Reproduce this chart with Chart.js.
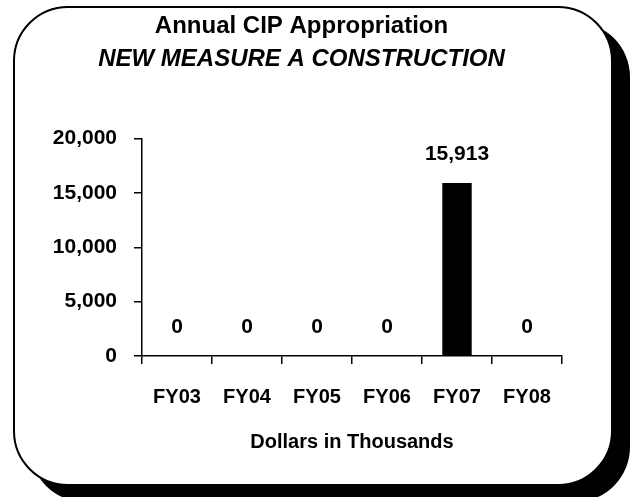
<!DOCTYPE html>
<html>
<head>
<meta charset="utf-8">
<script src="https://cdn.jsdelivr.net/npm/chart.js@4/dist/chart.umd.min.js"></script>
<style>
  html, body { margin: 0; padding: 0; background: #fff; }
  #wrap { position: relative; width: 633px; height: 497px; overflow: hidden; }
  #frame {
    position: absolute; left: 13px; top: 6px; width: 596px; height: 476px;
    border: 2px solid #000; border-radius: 55px; background: #fff;
    box-shadow: 17px 16px 0 #000;
  }
  #chart { position: absolute; left: 0; top: 0; }
</style>
</head>
<body>
<div id="wrap">
  <div id="frame"></div>
  <canvas id="chart" width="633" height="497"></canvas>
</div>
<script>
const categories = ['FY03', 'FY04', 'FY05', 'FY06', 'FY07', 'FY08'];
const appropriation = [0, 0, 0, 0, 15913, 0];
const yTicks = [0, 5000, 10000, 15000, 20000];

const FONT = '"Liberation Sans", Arial, sans-serif';
const fmt = v => Number(v).toLocaleString('en-US');

// value labels above each bar
const barLabels = {
  id: 'barLabels',
  afterDatasetsDraw(chart) {
    const ctx = chart.ctx;
    const meta = chart.getDatasetMeta(0);
    ctx.save();
    ctx.font = 'bold 21px ' + FONT;
    ctx.fillStyle = '#000';
    ctx.textAlign = 'center';
    ctx.textBaseline = 'bottom';
    meta.data.forEach((bar, i) => {
      ctx.fillText(fmt(appropriation[i]), bar.x, bar.y - 18);
    });
    ctx.restore();
  }
};

new Chart(document.getElementById('chart'), {
  type: 'bar',
  data: {
    labels: categories,
    datasets: [{
      data: appropriation,
      backgroundColor: '#000',
      borderWidth: 0,
      barPercentage: 0.42,
      categoryPercentage: 1,
    }],
  },
  options: {
    responsive: false,
    animation: false,
    layout: { padding: { left: 41, right: 71, top: 0, bottom: 45 } },
    plugins: {
      legend: { display: false },
      tooltip: { enabled: false },
      title: {
        display: true,
        text: 'Annual CIP Appropriation',
        color: '#000',
        font: { family: FONT, size: 24, weight: 'bold', lineHeight: 1.2 },
        padding: { top: 12, bottom: 0 },
      },
      subtitle: {
        display: true,
        text: 'NEW MEASURE A CONSTRUCTION',
        color: '#000',
        font: { family: FONT, size: 24, weight: 'bold', style: 'italic', lineHeight: 1.2 },
        padding: { top: 4, bottom: 65 },
      },
    },
    scales: {
      x: {
        grid: { drawOnChartArea: false, color: '#000', tickLength: 8, lineWidth: 1.5 },
        border: { color: '#000', width: 1.5 },
        ticks: { color: '#000', padding: 21, font: { family: FONT, size: 20, weight: 'bold' } },
        title: {
          display: true,
          text: 'Dollars in Thousands',
          color: '#000',
          font: { family: FONT, size: 20, weight: 'bold', lineHeight: 1 },
          padding: { top: 2, bottom: 0 },
        },
      },
      y: {
        min: 0,
        max: 20000,
        afterBuildTicks: scale => { scale.ticks = yTicks.map(v => ({ value: v })); },
        afterFit: scale => { scale.width = 101; },
        grid: { drawOnChartArea: false, color: '#000', tickLength: 8, lineWidth: 1.5 },
        border: { color: '#000', width: 1.5 },
        ticks: { color: '#000', padding: 17, callback: v => fmt(v), font: { family: FONT, size: 21, weight: 'bold' } },
      },
    },
  },
  plugins: [barLabels],
});
</script>
</body>
</html>
